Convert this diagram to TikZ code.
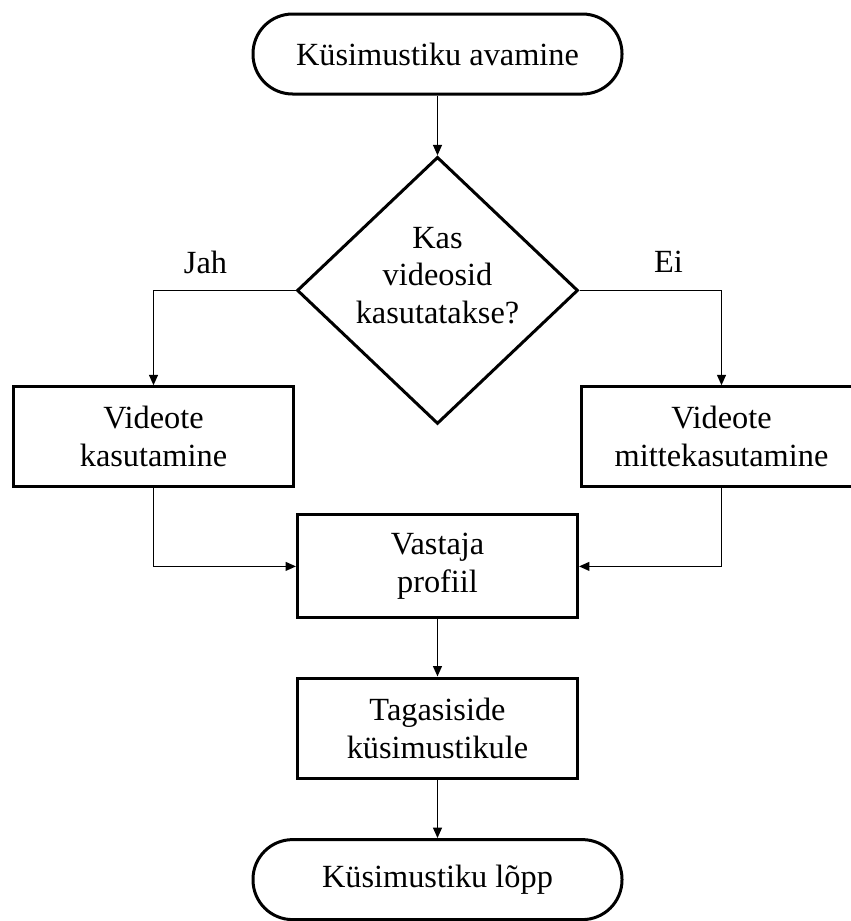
\documentclass[tikz,border=0pt]{standalone}
\usepackage{fontspec}
\setmainfont{Liberation Serif}
\usetikzlibrary{arrows.meta,positioning,shapes.geometric}

\begin{document}
\begin{tikzpicture}[-{Triangle[length=2.6mm,width=2.2mm]}, line width=0.4mm, font=\fontsize{23}{27}\selectfont]
\tikzstyle{otsa} = [draw, line width=0.75mm, rectangle, rounded corners=9.9mm, minimum width=92.25mm, minimum height=20mm]
\tikzstyle{kast} = [draw, line width=0.75mm, align=center, minimum width=70mm, minimum height=25mm]
\tikzstyle{romb} = [draw, diamond, line width=0.75mm, align=center, inner sep=-4mm, aspect=1.05, minimum width=70.25mm, minimum height=66.75mm]

\useasboundingbox (0,0) rectangle (212.75mm,-230.25mm);

\node [otsa] (algus) at (109.375mm,-13.5mm) {Küsimustiku avamine};
\node [romb, text depth=7.5mm] (otsus) [below of=algus, node distance=59.1mm] {Kas\\videosid\\kasutatakse?};
\draw (algus) -- (otsus);

\node (jah) [left of=otsus, node distance=58mm, yshift=7.1mm] {Jah};
\node (ei) [right of=otsus, node distance=57.75mm, yshift=7.1mm] {Ei};

\node [kast] (kasut) [below of=otsus, node distance=36.6mm, xshift=-71mm] {Videote\\kasutamine};
\draw (otsus) -| (kasut);

\node [kast] (mitte) [below of=otsus, node distance=36.6mm, xshift=71mm] {Videote\\mittekasutamine};
\draw (otsus) -| (mitte);

\node [kast, minimum height=25.75mm] (profiil) [below of=otsus, node distance=69mm] {Vastaja\\profiil};
\draw (kasut) |- (profiil);
\draw (mitte) |- (profiil);

\node [kast] (tagasi) [below of=profiil, node distance=40.4mm] {Tagasiside\\küsimustikule};
\draw (profiil) -- (tagasi);

\node [otsa] (lopp) [below of=tagasi, node distance=37.9mm] {Küsimustiku lõpp};
\draw (tagasi) -- (lopp);

\end{tikzpicture}
\end{document}
